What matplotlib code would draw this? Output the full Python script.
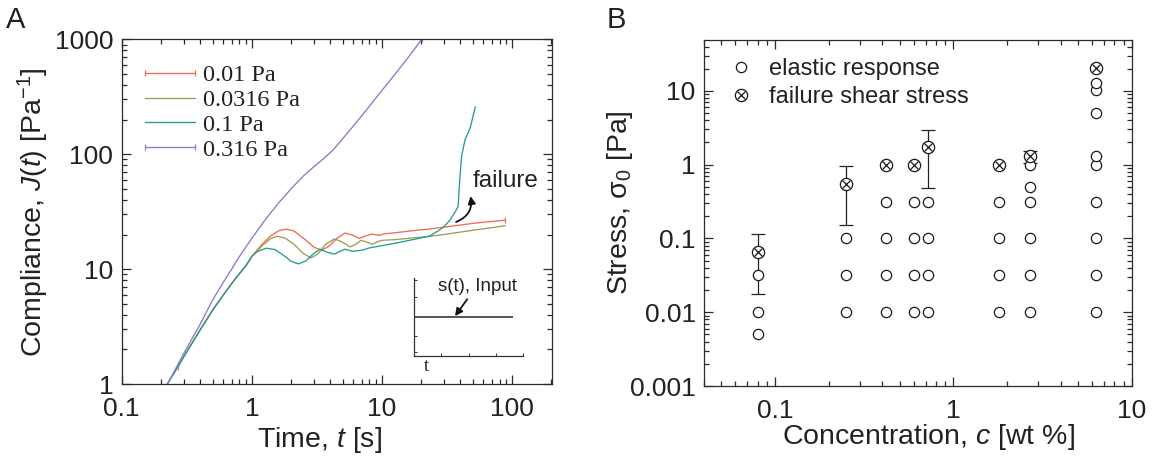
import matplotlib
matplotlib.use("Agg")
import matplotlib.pyplot as plt
from matplotlib.ticker import FixedLocator, LogLocator, NullFormatter, FuncFormatter
from matplotlib.legend_handler import HandlerTuple

# =========================
# Data
# =========================
# Panel A: creep compliance J(t) for four applied stresses
T_001 = [0.27, 0.3, 0.4, 0.5, 0.6, 0.7, 0.8, 0.9, 1.0, 1.2, 1.4, 1.6, 1.83, 2.1, 2.5, 3.0,
         3.44, 3.9, 4.5, 5.2, 5.9, 6.7, 7.5, 8.4, 9.0, 9.5, 10.5, 12, 15, 20, 23, 30, 40,
         50, 60, 75, 88]
J_001 = [1.4, 1.73, 2.95, 4.4, 5.9, 7.5, 9.1, 10.7, 12.9, 16.5, 19.5, 21.5, 22.3, 21.5,
         18.5, 15.5, 14.6, 15.8, 18.5, 20.6, 19.8, 18.5, 19.5, 20.2, 19.8, 19.7, 20.3,
         20.6, 21.2, 22.0, 22.3, 23.2, 24.2, 25.0, 25.6, 26.2, 26.6]

T_0316 = [0.2, 0.25, 0.3, 0.4, 0.5, 0.6, 0.7, 0.8, 0.9, 1.0, 1.2, 1.4, 1.56, 1.8, 2.1, 2.5,
          2.85, 3.2, 3.7, 4.3, 4.9, 5.7, 6.3, 6.9, 7.6, 8.4, 9.2, 10, 12, 15, 20, 23, 30,
          40, 50, 60, 75, 88]
J_0316 = [0.82, 1.22, 1.73, 2.95, 4.4, 5.9, 7.5, 9.1, 10.7, 12.9, 16.0, 18.5, 19.3, 18.6,
          16.5, 13.6, 12.5, 13.5, 16.5, 18.3, 17.3, 15.6, 16.5, 17.8, 17.2, 16.5, 17.3,
          17.8, 18.0, 18.4, 19.0, 19.3, 20.0, 21.0, 21.8, 22.4, 23.2, 23.9]

T_01 = [0.2, 0.25, 0.3, 0.4, 0.5, 0.6, 0.7, 0.8, 0.9, 1.0, 1.1, 1.29, 1.5, 1.75, 2.0, 2.28,
        2.6, 2.95, 3.33, 3.8, 4.3, 4.7, 5.2, 5.9, 7, 8, 10, 13, 17, 20, 23, 27, 30, 33,
        36, 38.4, 39.5, 40.8, 43.4, 47.6, 52]
J_01 = [0.82, 1.22, 1.73, 2.95, 4.4, 5.9, 7.5, 9.1, 10.7, 12.9, 14.2, 15.2, 14.8, 13.2,
        11.7, 11.1, 11.8, 13.5, 14.9, 14.0, 13.5, 14.2, 14.9, 14.3, 14.6, 15.3, 16.0,
        16.9, 18.0, 18.7, 19.3, 21.5, 23.5, 26.5, 30.8, 35, 60, 96, 134, 170, 258]

T_0316PA = [0.2, 0.225, 0.3, 0.4, 0.5, 0.6, 0.7, 0.8, 0.9, 1.0, 1.3, 1.6, 2.0, 2.5, 3.0,
            3.5, 4.17, 5, 6, 8, 10, 12, 15, 18, 20.1]
J_0316PA = [0.78, 1.0, 1.85, 3.3, 5.4, 7.6, 10.0, 12.8, 15.6, 18.6, 28, 37.5, 50, 65, 78,
            90, 108, 137, 175, 262, 360, 465, 640, 840, 1000]

SERIES_A = [
    ("0.01 Pa", T_001, J_001, "#F26B4F", True),
    ("0.0316 Pa", T_0316, J_0316, "#9E9C55", False),
    ("0.1 Pa", T_01, J_01, "#259B98", False),
    ("0.316 Pa", T_0316PA, J_0316PA, "#8A7BC6", True),
]

# Inset: step input
INPUT_T = [0.0, 0.9]
INPUT_S = [0.5, 0.5]

# Panel B: stress vs concentration
EL_C = [0.08, 0.08, 0.08,
        0.25, 0.25, 0.25,
        0.42, 0.42, 0.42, 0.42,
        0.6, 0.6, 0.6, 0.6,
        0.72, 0.72, 0.72, 0.72,
        1.8, 1.8, 1.8, 1.8,
        2.7, 2.7, 2.7, 2.7, 2.7, 2.7,
        6.3, 6.3, 6.3, 6.3, 6.3, 6.3, 6.3, 6.3, 6.3]
EL_S = [0.005, 0.01, 0.0316,
        0.01, 0.0316, 0.1,
        0.01, 0.0316, 0.1, 0.316,
        0.01, 0.0316, 0.1, 0.316,
        0.01, 0.0316, 0.1, 0.316,
        0.01, 0.0316, 0.1, 0.316,
        0.01, 0.0316, 0.1, 0.316, 0.5, 1.0,
        0.01, 0.0316, 0.1, 0.316, 1.0, 1.32, 5.0, 10.2, 13.0]

FAIL_C = [0.08, 0.25, 0.42, 0.6, 0.72, 1.8, 2.7, 6.3]
FAIL_S = [0.066, 0.545, 1.0, 1.0, 1.73, 1.0, 1.32, 20.2]

ERR_C = [0.08, 0.25, 0.72, 2.7]
ERR_S = [0.066, 0.545, 1.73, 1.32]
ERR_LO = [0.0175, 0.15, 0.486, 1.07]
ERR_HI = [0.114, 0.946, 2.98, 1.55]

# =========================
# Style
# =========================
plt.rcParams.update({
    "font.family": ["Liberation Sans", "DejaVu Sans"],
    "font.size": 19,
    "mathtext.fontset": "custom",
    "mathtext.rm": "Liberation Sans",
    "mathtext.it": "Liberation Sans:italic",
    "mathtext.bf": "Liberation Sans:bold",
    "axes.linewidth": 0.9,
    "axes.edgecolor": "#2a2a2a",
    "text.color": "#222222",
})

W, H = 1156, 461
TXT = "#222222"


def fmt(v, pos):
    return "%g" % v


def style_log_axes(ax, xmaj, ymaj):
    ax.set_xscale("log")
    ax.set_yscale("log")
    ax.xaxis.set_major_locator(FixedLocator(xmaj))
    ax.yaxis.set_major_locator(FixedLocator(ymaj))
    ax.xaxis.set_minor_locator(LogLocator(base=10, subs=range(2, 10), numticks=30))
    ax.yaxis.set_minor_locator(LogLocator(base=10, subs=range(2, 10), numticks=30))
    ax.xaxis.set_major_formatter(FuncFormatter(fmt))
    ax.yaxis.set_major_formatter(FuncFormatter(fmt))
    ax.xaxis.set_minor_formatter(NullFormatter())
    ax.yaxis.set_minor_formatter(NullFormatter())
    ax.tick_params(which="both", direction="in", top=True, right=True,
                   width=0.9, color="#2a2a2a", labelcolor=TXT, labelsize=19)
    ax.tick_params(which="major", length=6.5)
    ax.tick_params(which="minor", length=3.4)
    ax.tick_params(axis="x", which="major", pad=9)
    ax.tick_params(axis="y", which="major", pad=6)


fig = plt.figure(figsize=(W / 100, H / 100), dpi=100)

# =========================
# Panel A
# =========================
axA = fig.add_axes([121.7 / W, 1 - 384 / H, 430.3 / W, 344.7 / H])
style_log_axes(axA, [0.1, 1, 10, 100], [1, 10, 100, 1000])
axA.set_xlim(0.1, 202)
axA.set_ylim(1, 1000)

handles_a = []
for label, t, j, color, caps in SERIES_A:
    kw = dict(color=color, linewidth=0.95, label=label)
    if caps:
        kw.update(marker="|", markersize=4, markeredgewidth=0.9,
                  markevery=[0, len(t) - 1])
    (ln,) = axA.plot(t, j, **kw)
    handles_a.append(ln)

legA = axA.legend(handles=handles_a, loc="upper left", bbox_to_anchor=(0.037, 0.927),
                  frameon=False, numpoints=2, handlelength=2.66, handletextpad=0.03,
                  labelspacing=0.11, borderpad=0, borderaxespad=0,
                  prop={"family": "Liberation Serif", "size": 17.5})
for txt in legA.get_texts():
    txt.set_color(TXT)

axA.set_xlabel(r"Time, $t$ [s]", fontsize=20.5, color=TXT)
axA.set_ylabel(r"Compliance, $J(t)$ [Pa$^{\mathrm{-1}}$]", fontsize=20.5, color=TXT)
axA.xaxis.label.set_va("center")
axA.yaxis.label.set_va("center")
axA.xaxis.set_label_coords(0.46, -0.162)
axA.yaxis.set_label_coords(-0.206, 0.5)

axA.text(0.893, 0.589, "failure", transform=axA.transAxes, ha="center", va="center",
         fontsize=17.5, color=TXT)
axA.annotate("", xy=(0.8106, 0.545), xytext=(0.777, 0.470),
             xycoords="axes fraction", textcoords="axes fraction",
             arrowprops=dict(arrowstyle="-|>", connectionstyle="arc3,rad=0.4",
                             color="#111111", lw=1.3, mutation_scale=11,
                             shrinkA=0, shrinkB=0))

# Inset: stress input
axI = fig.add_axes([414.3 / W, 1 - 355.7 / H, 108.4 / W, 77.7 / H])
axI.patch.set_alpha(0)
axI.plot(INPUT_T, INPUT_S, color="#555555", linewidth=1.4)
axI.set_xlim(0, 1)
axI.set_ylim(0, 1)
for side in ("top", "right"):
    axI.spines[side].set_visible(False)
for side in ("left", "bottom"):
    axI.spines[side].set_color("#333333")
    axI.spines[side].set_linewidth(0.9)
axI.set_xticks([0.25, 0.5, 0.75, 1.0])
axI.set_yticks([0.05, 0.25, 0.5, 0.75, 0.97])
axI.tick_params(direction="in", length=2.5, width=0.7, color="#333333",
                labelleft=False, labelbottom=False)

axA.text(0.826, 0.284, "s(t), Input", transform=axA.transAxes, ha="center", va="center",
         fontsize=13.5, color=TXT)
axA.annotate("", xy=(0.7746, 0.197), xytext=(0.803, 0.246),
             xycoords="axes fraction", textcoords="axes fraction",
             arrowprops=dict(arrowstyle="-|>", color="#111111", lw=1.3,
                             mutation_scale=11, shrinkA=0, shrinkB=0))
axA.text(0.709, 0.052, "t", transform=axA.transAxes, ha="center", va="center",
         fontsize=13.5, family="Liberation Serif", color=TXT)

# =========================
# Panel B
# =========================
axB = fig.add_axes([704 / W, 1 - 386 / H, 427.7 / W, 346 / H])
style_log_axes(axB, [0.1, 1, 10], [0.001, 0.01, 0.1, 1, 10])
axB.set_xlim(0.04, 10)
axB.set_ylim(0.001, 49)

err_minus = [s - lo for s, lo in zip(ERR_S, ERR_LO)]
err_plus = [hi - s for s, hi in zip(ERR_S, ERR_HI)]
axB.errorbar(ERR_C, ERR_S, yerr=[err_minus, err_plus], fmt="none", ecolor="#222222",
             elinewidth=0.9, capsize=5, capthick=0.9, zorder=2)

(h_el,) = axB.plot(EL_C, EL_S, linestyle="none", marker="o", markersize=7.4,
                   markerfacecolor="white", markeredgecolor="#1a1a1a",
                   markeredgewidth=0.9, zorder=3)
(h_fo,) = axB.plot(FAIL_C, FAIL_S, linestyle="none", marker="o", markersize=8.8,
                   markerfacecolor="white", markeredgecolor="#1a1a1a",
                   markeredgewidth=0.9, zorder=4)
(h_fx,) = axB.plot(FAIL_C, FAIL_S, linestyle="none", marker="x", markersize=6.2,
                   markeredgecolor="#1a1a1a", markeredgewidth=0.9, zorder=5)

legB = axB.legend([h_el, (h_fo, h_fx)], ["elastic response", "failure shear stress"],
                  handler_map={tuple: HandlerTuple(ndivide=1)},
                  loc="upper left", bbox_to_anchor=(0.06, 0.948), frameon=False,
                  numpoints=1, handlelength=1.0, handletextpad=0.67,
                  labelspacing=0.25, borderpad=0, borderaxespad=0, fontsize=17)
for txt in legB.get_texts():
    txt.set_color(TXT)

axB.set_xlabel(r"Concentration, $c$ [wt %]", fontsize=20.5, color=TXT)
axB.set_ylabel(r"Stress, σ$_{0}$ [Pa]", fontsize=20.5, color=TXT)
axB.xaxis.label.set_va("center")
axB.yaxis.label.set_va("center")
axB.xaxis.set_label_coords(0.524, -0.147)
axB.yaxis.set_label_coords(-0.196, 0.53)

# Panel letters
fig.text(6 / W, 1 - 6 / H, "A", ha="left", va="top", fontsize=21, color=TXT)
fig.text(607 / W, 1 - 6 / H, "B", ha="left", va="top", fontsize=21, color=TXT)

fig.savefig("out.png", dpi=100)
plt.close(fig)
